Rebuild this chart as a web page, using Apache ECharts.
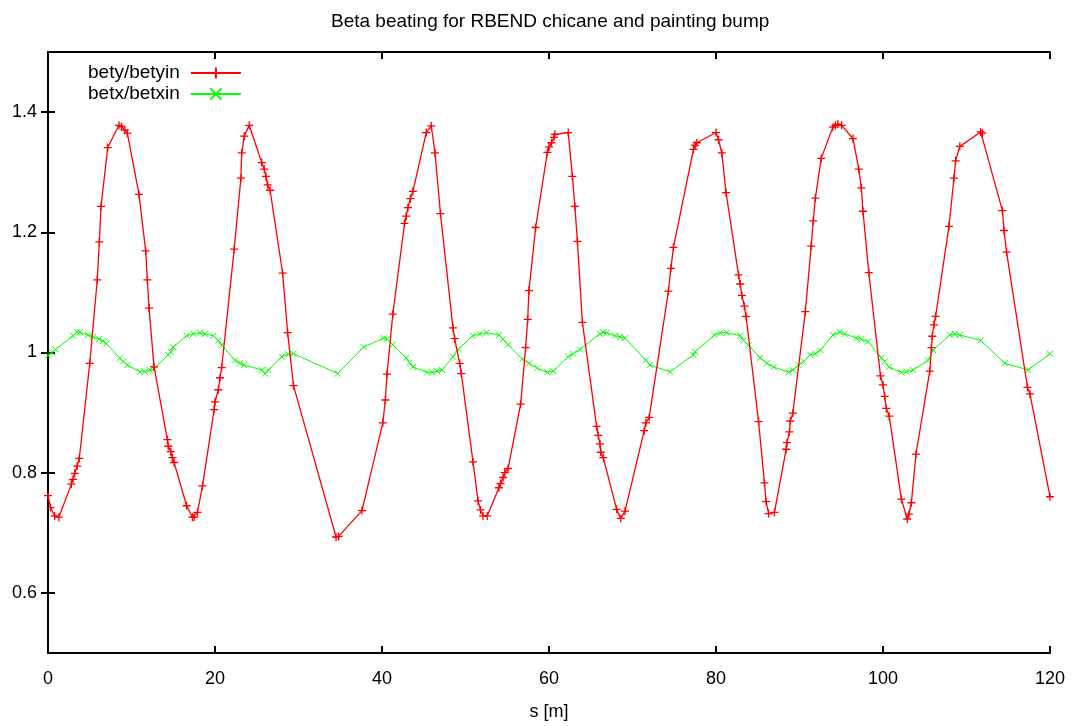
<!DOCTYPE html>
<html>
<head>
<meta charset="utf-8">
<title>Beta beating</title>
<script src="https://cdn.jsdelivr.net/npm/echarts@6/dist/echarts.min.js"></script>
<style>
  html, body { margin: 0; padding: 0; background: #fff; }
  #main { width: 1077px; height: 726px; }
</style>
</head>
<body>
<div id="main"></div>
<script>
// s positions [m] and bety/betyin values
var betyS = [0, 0.3, 0.8, 1.3, 2.8, 3.0, 3.2, 3.5, 3.75, 5.0, 5.9, 6.15, 6.35, 7.15,
  8.5, 8.8, 9.2, 9.5, 10.9, 11.7, 11.9, 12.1, 12.7, 14.3, 14.4, 14.7, 14.9, 15.1,
  16.6, 17.3, 17.5, 17.9, 18.5, 19.9, 20.0, 20.4, 20.6, 20.8, 22.3, 23.1, 23.2, 23.5, 24.1,
  25.6, 25.9, 26.1, 26.3, 26.6, 28.1, 28.7, 29.4, 34.5, 34.8, 37.6,
  40.1, 40.4, 40.6, 41.3, 42.7, 42.9, 43.1, 43.4, 43.7, 45.3, 45.9, 46.35, 47.0,
  48.5, 48.7, 49.3, 49.5, 50.9, 51.5, 51.8, 52.1, 52.6, 54.0, 54.2, 54.5, 54.7, 55.1,
  56.6, 57.2, 57.45, 57.6, 58.4, 59.8, 60.0, 60.3, 60.6, 60.7, 62.3, 62.8, 63.1, 63.4, 64.0,
  65.7, 65.9, 66.1, 66.2, 66.5, 68.1, 68.6, 69.1, 71.4, 71.6, 72.0, 74.3, 74.6, 74.9,
  77.3, 77.5, 77.7, 80.0, 80.3, 80.7, 81.2, 82.7, 82.9, 83.1, 83.4, 83.6,
  85.1, 85.8, 86.0, 86.3, 87.0, 88.4, 88.5, 88.8, 88.9, 89.2, 90.7, 91.4, 91.65, 91.9, 92.6,
  94.0, 94.3, 94.6, 95.05, 96.4, 97.1, 97.4, 97.6, 98.3, 99.7, 100.0, 100.2, 100.4, 100.75,
  102.2, 102.9, 103.1, 103.4, 103.95, 105.6, 105.8, 105.9, 106.1, 106.3,
  107.9, 108.5, 108.7, 109.2, 111.7, 111.9, 114.3, 114.5, 114.8, 117.3, 117.6, 120.0];
var betyVal = [0.762, 0.742, 0.728, 0.726, 0.781, 0.789, 0.799, 0.811, 0.824, 0.982, 1.121, 1.184, 1.243, 1.341,
  1.378, 1.376, 1.370, 1.365, 1.263, 1.169, 1.121, 1.074, 0.976, 0.855, 0.844, 0.835, 0.825, 0.817,
  0.745, 0.726, 0.726, 0.734, 0.778, 0.905, 0.918, 0.938, 0.958, 0.975, 1.172, 1.290, 1.332, 1.360, 1.378,
  1.316, 1.305, 1.293, 1.279, 1.270, 1.132, 1.033, 0.945, 0.693, 0.694, 0.737,
  0.883, 0.921, 0.964, 1.064, 1.215, 1.227, 1.241, 1.256, 1.268, 1.366, 1.377, 1.332, 1.231,
  1.041, 1.023, 0.982, 0.965, 0.818, 0.753, 0.738, 0.728, 0.728, 0.775, 0.782, 0.792, 0.800, 0.807,
  0.914, 1.008, 1.055, 1.103, 1.208, 1.333, 1.342, 1.349, 1.358, 1.363, 1.366, 1.293, 1.243, 1.185, 1.050,
  0.877, 0.862, 0.848, 0.834, 0.825, 0.739, 0.724, 0.736, 0.870, 0.883, 0.892, 1.102, 1.140, 1.175,
  1.338, 1.345, 1.349, 1.366, 1.354, 1.332, 1.266, 1.129, 1.114, 1.095, 1.077, 1.060,
  0.885, 0.783, 0.752, 0.732, 0.734, 0.839, 0.850, 0.868, 0.886, 0.899, 1.068, 1.177, 1.219, 1.257, 1.323,
  1.375, 1.378, 1.380, 1.378, 1.356, 1.305, 1.274, 1.235, 1.133, 0.961, 0.946, 0.927, 0.907, 0.894,
  0.756, 0.723, 0.731, 0.750, 0.831, 0.969, 1.008, 1.027, 1.046, 1.060,
  1.210, 1.290, 1.319, 1.343, 1.367, 1.365, 1.236, 1.203, 1.167, 0.942, 0.931, 0.760];

// s positions [m] and betx/betxin values
var betxS = [0, 0.5, 0.9, 3.0, 3.5, 3.8, 4.8, 5.4, 6.1, 6.6, 7.0, 8.6, 9.0, 9.5, 11.0, 11.6, 12.2, 12.7,
  14.4, 14.7, 15.0, 16.6, 17.4, 18.2, 18.8, 19.8, 20.4, 20.8, 22.4, 23.0, 23.5, 25.6, 26.0, 26.4,
  28.0, 28.8, 29.4, 34.7, 37.8, 40.2, 40.6, 41.3, 42.9, 43.3, 43.7, 45.4, 46.0, 46.6, 47.2,
  48.5, 49.1, 50.9, 51.7, 52.5, 54.0, 54.5, 55.1, 56.8, 57.6, 58.6, 59.8, 60.5, 62.3, 62.9, 63.7,
  66.1, 66.5, 66.9, 67.9, 68.5, 69.1, 71.6, 72.1, 74.5, 77.3, 77.5, 79.8, 80.5, 81.3, 82.9, 83.3, 83.9,
  85.3, 86.1, 86.9, 88.7, 89.2, 89.9, 90.5, 91.3, 91.9, 92.5, 94.0, 94.8, 95.4, 96.8, 97.4, 98.2,
  99.8, 100.2, 100.7, 102.2, 102.8, 103.6, 105.4, 106.0, 108.0, 108.6, 109.2, 111.7, 114.6, 117.4, 120.0];
var betxVal = [0.995, 1.000, 1.005, 1.028, 1.034, 1.034, 1.029, 1.026, 1.022, 1.019, 1.015, 0.991, 0.985, 0.979, 0.968, 0.968, 0.971, 0.973,
  0.996, 1.001, 1.009, 1.028, 1.031, 1.033, 1.031, 1.028, 1.020, 1.012, 0.987, 0.982, 0.979, 0.971, 0.965, 0.971,
  0.993, 0.997, 0.998, 0.965, 1.009, 1.024, 1.022, 1.013, 0.991, 0.983, 0.976, 0.967, 0.967, 0.969, 0.971,
  0.993, 1.005, 1.028, 1.031, 1.033, 1.029, 1.022, 1.013, 0.989, 0.982, 0.974, 0.967, 0.969, 0.993, 0.998, 1.005,
  1.031, 1.034, 1.033, 1.028, 1.026, 1.024, 0.987, 0.979, 0.968, 0.996, 1.001, 1.029, 1.033, 1.033, 1.028, 1.020, 1.012,
  0.991, 0.982, 0.976, 0.967, 0.971, 0.979, 0.985, 0.996, 0.998, 1.004, 1.029, 1.034, 1.031, 1.024, 1.022, 1.018,
  0.991, 0.985, 0.976, 0.967, 0.968, 0.971, 0.987, 1.004, 1.029, 1.031, 1.029, 1.020, 0.982, 0.971, 0.998];

var yTicks = [0.6, 0.8, 1, 1.2, 1.4];

function pairs(xs, ys) {
  var out = [];
  for (var i = 0; i < xs.length; i++) {
    out.push([xs[i], ys[i]]);
  }
  return out;
}

var fontName = '"Liberation Sans", Arial, sans-serif';
var lineBlack = { lineStyle: { color: '#000', width: 2 } };
var tickIn = { show: true, inside: true, length: 7, lineStyle: { color: '#000', width: 2 } };

var myChart = echarts.init(document.getElementById('main'), null, { renderer: 'canvas' });
var option = {
  animation: false,
  backgroundColor: '#fff',
  textStyle: { fontFamily: fontName },
  title: {
    text: 'Beta beating for RBEND chicane and painting bump',
    left: 326,
    top: 7,
    textStyle: { fontSize: 19, fontWeight: 'normal', color: '#000', fontFamily: fontName }
  },
  legend: {
    orient: 'vertical',
    left: 83,
    top: 58,
    align: 'right',
    itemWidth: 50,
    itemHeight: 14,
    itemGap: 1,
    textStyle: { fontSize: 19, lineHeight: 20, color: '#000', fontFamily: fontName, padding: [0, 6, 0, 0] },
    data: ['bety/betyin', 'betx/betxin']
  },
  grid: { left: 48, right: 27, top: 52, bottom: 71 },
  xAxis: [
    {
      type: 'value',
      position: 'bottom',
      min: 0,
      max: 120,
      interval: 20,
      name: 's [m]',
      nameLocation: 'middle',
      nameGap: 50,
      nameTextStyle: { fontSize: 18, color: '#000', fontFamily: fontName },
      axisLine: lineBlack,
      axisTick: tickIn,
      axisLabel: { fontSize: 18, color: '#000', margin: 17, fontFamily: fontName },
      splitLine: { show: false }
    },
    {
      type: 'value',
      position: 'top',
      min: 0,
      max: 120,
      interval: 20,
      axisLine: lineBlack,
      axisTick: tickIn,
      axisLabel: { show: false },
      splitLine: { show: false }
    }
  ],
  yAxis: [
    {
      type: 'value',
      position: 'left',
      min: 0.5,
      max: 1.5,
      axisLine: { show: true, lineStyle: { color: '#000', width: 2 } },
      axisTick: { show: true, inside: true, length: 7, customValues: yTicks, lineStyle: { color: '#000', width: 2 } },
      axisLabel: { fontSize: 18, color: '#000', margin: 11, customValues: yTicks, fontFamily: fontName },
      splitLine: { show: false }
    },
    {
      type: 'value',
      position: 'right',
      min: 0.5,
      max: 1.5,
      axisLine: { show: true, lineStyle: { color: '#000', width: 2 } },
      axisTick: { show: true, inside: true, length: 7, customValues: yTicks, lineStyle: { color: '#000', width: 2 } },
      axisLabel: { show: false },
      splitLine: { show: false }
    }
  ],
  series: [
    {
      name: 'bety/betyin',
      type: 'line',
      data: pairs(betyS, betyVal),
      symbol: 'path://M0,5L10,5M5,0L5,10',
      symbolSize: 8,
      showAllSymbol: true,
      lineStyle: { color: '#ff0000', width: 1.3 },
      itemStyle: { color: '#ff0000', borderColor: '#ff0000', borderWidth: 1.3 },
      z: 3
    },
    {
      name: 'betx/betxin',
      type: 'line',
      data: pairs(betxS, betxVal),
      symbol: 'path://M0,0L10,10M10,0L0,10',
      symbolSize: 6,
      showAllSymbol: true,
      lineStyle: { color: '#00ff00', width: 1 },
      itemStyle: { color: '#00ff00', borderColor: '#00ff00', borderWidth: 1 },
      z: 2
    }
  ]
};
myChart.setOption(option);
</script>
</body>
</html>
